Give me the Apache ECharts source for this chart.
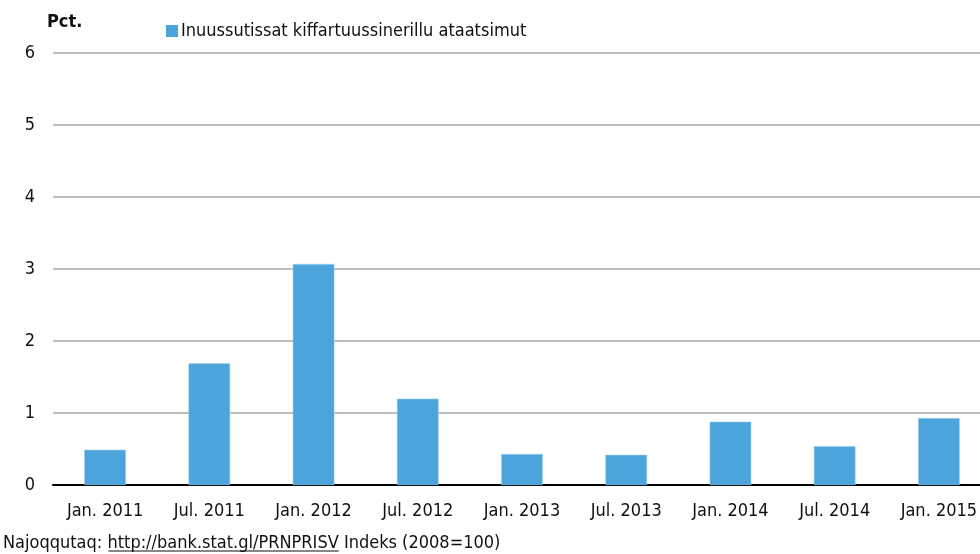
<!DOCTYPE html>
<html>
<head>
<meta charset="utf-8">
<style>
  html, body { margin: 0; padding: 0; background: #fff; overflow: hidden; }
  #chart { width: 991px; height: 554px; }
</style>
<script src="https://cdn.jsdelivr.net/npm/echarts@6/dist/echarts.min.js"></script>
</head>
<body>
<div id="chart"></div>
<script>
const categories = ['Jan. 2011', 'Jul. 2011', 'Jan. 2012', 'Jul. 2012', 'Jan. 2013',
  'Jul. 2013', 'Jan. 2014', 'Jul. 2014', 'Jan. 2015']
const values = [0.49, 1.69, 3.07, 1.2, 0.43, 0.42, 0.88, 0.54, 0.93]
const seriesName = 'Inuussutissat kiffartuussinerillu ataatsimut'
const unitLabel = 'Pct.'
const sourceLabel = 'Najoqqutaq: '
const sourceUrl = 'http://bank.stat.gl/PRNPRISV'
const sourceNote = ' Indeks (2008=100)'

const fontFamily = '"DejaVu Sans Condensed", "Liberation Sans Narrow", sans-serif'
const fontSize = 18

// the plot runs a little past the right edge of the picture, so the chart is wider than the window
const chart = echarts.init(document.getElementById('chart'))

// underline position for the source url
const ctx = document.createElement('canvas').getContext('2d')
ctx.font = fontSize + 'px ' + fontFamily
const urlX0 = 3 + ctx.measureText(sourceLabel).width
const urlX1 = urlX0 + ctx.measureText(sourceUrl).width

const option = {
  animation: false,
  textStyle: { fontFamily: fontFamily },
  title: {
    text: unitLabel,
    left: 47,
    top: 13,
    padding: 0,
    textStyle: { fontFamily: fontFamily, fontSize: 18, fontWeight: 'bold', color: '#111' }
  },
  legend: {
    data: [seriesName],
    left: 161,
    top: 17,
    icon: 'rect',
    itemWidth: 12,
    itemHeight: 12,
    itemGap: 6,
    itemStyle: { borderWidth: 0 },
    textStyle: { fontFamily: fontFamily, fontSize: fontSize, color: '#111', padding: [0, 0, 0, -2] }
  },
  grid: {
    left: 53,
    right: 0,
    top: 53,
    bottom: 69,
    containLabel: false
  },
  xAxis: {
    type: 'category',
    data: categories,
    axisTick: { show: false },
    axisLine: { lineStyle: { color: '#000', width: 2 } },
    axisLabel: { interval: 0, fontFamily: fontFamily, fontSize: fontSize, color: '#111', margin: 17 }
  },
  yAxis: {
    type: 'value',
    min: 0,
    max: 6,
    interval: 1,
    axisLine: { show: false },
    axisTick: { show: false },
    axisLabel: { fontFamily: fontFamily, fontSize: fontSize, color: '#111', margin: 18 },
    splitLine: { lineStyle: { color: '#a8a8a8', width: 1.5 } }
  },
  series: [
    {
      type: 'bar',
      name: seriesName,
      data: values,
      barWidth: '40%',
      itemStyle: { color: '#4ba4dc', borderColor: '#9fd0ee', borderWidth: 0.6 }
    }
  ],
  graphic: [
    {
      type: 'text',
      left: 3,
      top: 534,
      style: {
        text: sourceLabel + sourceUrl + sourceNote,
        font: fontSize + 'px ' + fontFamily,
        fill: '#111'
      }
    },
    {
      type: 'line',
      shape: { x1: urlX0 + 1, y1: 551, x2: urlX1, y2: 551 },
      style: { stroke: '#111', lineWidth: 1.2 }
    }
  ]
}

chart.setOption(option)
</script>
</body>
</html>
